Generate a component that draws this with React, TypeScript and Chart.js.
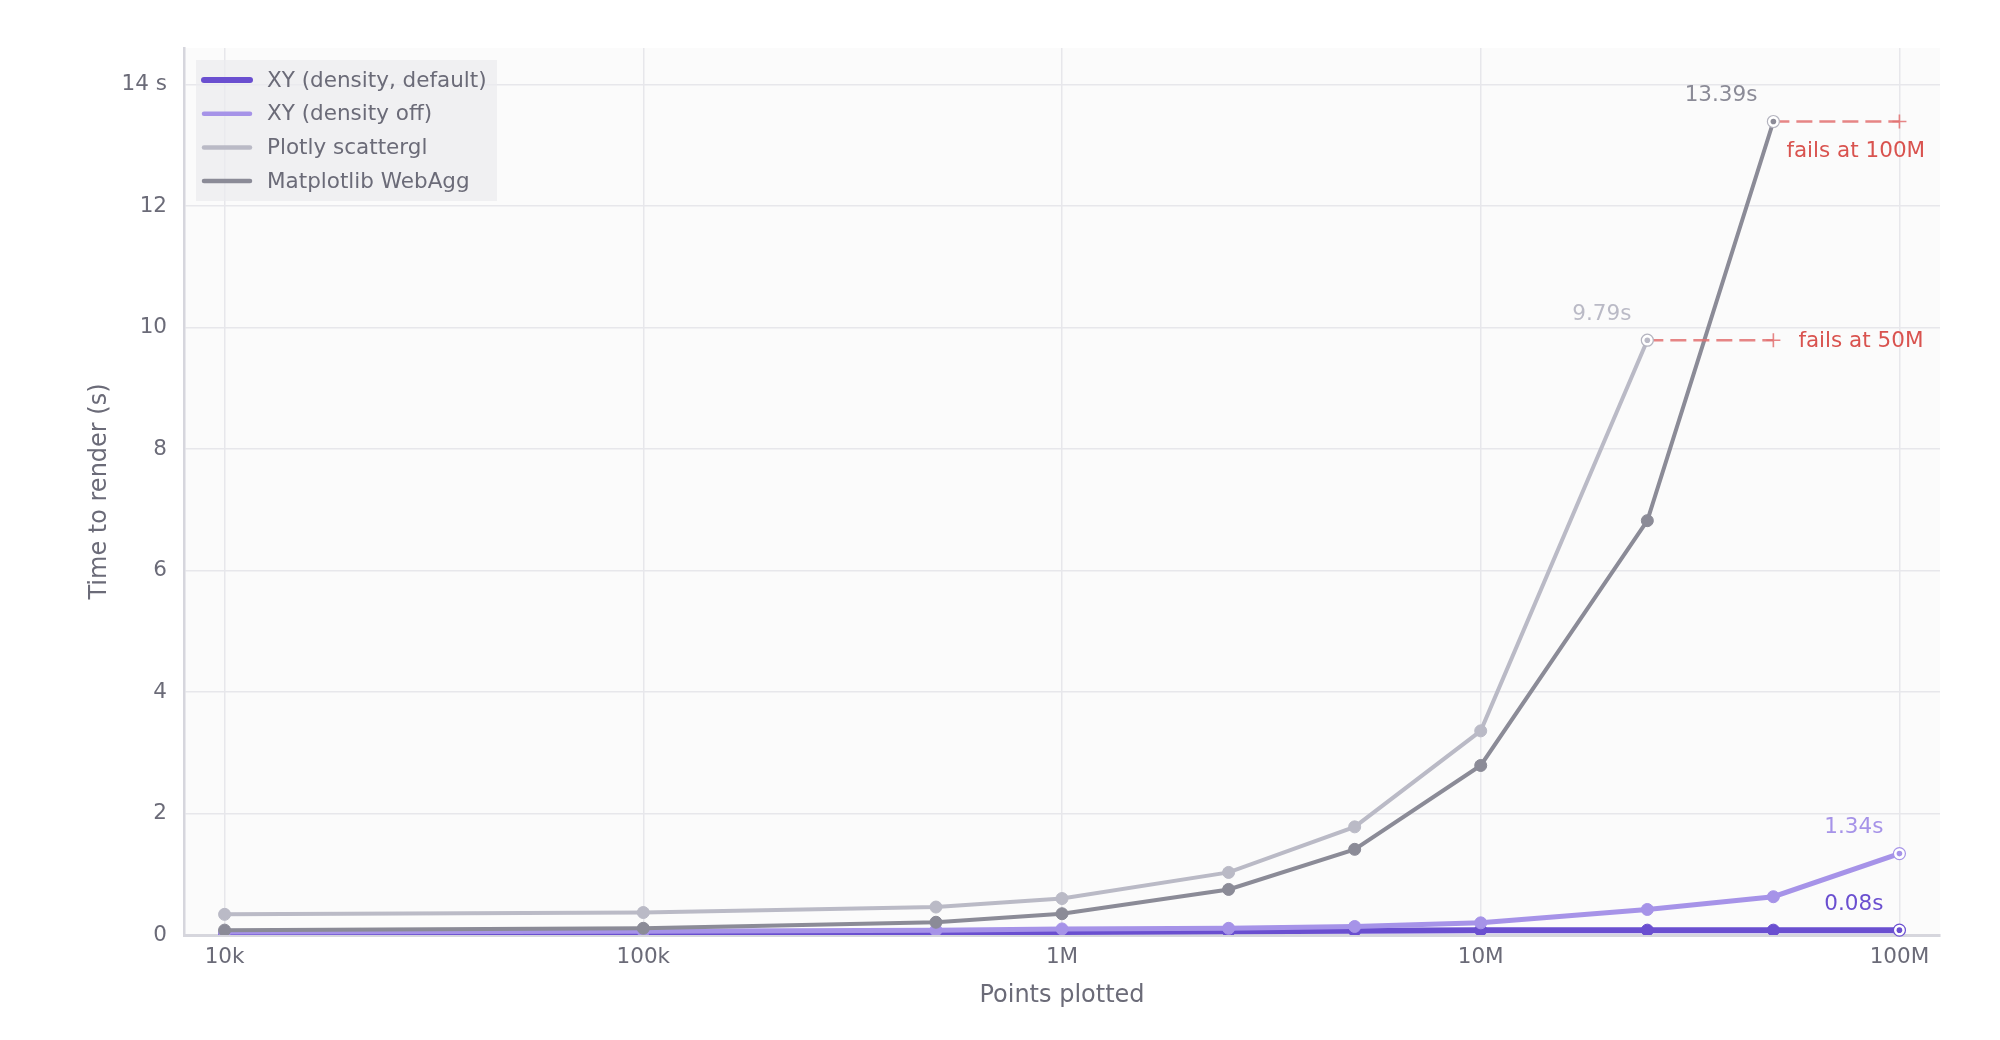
import { useEffect, useRef } from 'react';
import { Chart, registerables } from 'chart.js';

Chart.register(...registerables);

// ---- data ----
const pointsPlotted = [1e4, 1e5, 5e5, 1e6, 2.5e6, 5e6, 1e7, 2.5e7, 5e7, 1e8];
const xyDensityDefault = [0.03, 0.04, 0.05, 0.05, 0.06, 0.07, 0.08, 0.08, 0.08, 0.08];
const xyDensityOff = [0.05, 0.06, 0.08, 0.1, 0.11, 0.14, 0.2, 0.42, 0.63, 1.34];
const plotlyScattergl = [0.34, 0.37, 0.46, 0.6, 1.03, 1.78, 3.36, 9.79, null, null];
const matplotlibWebAgg = [0.08, 0.11, 0.21, 0.35, 0.75, 1.41, 2.79, 6.82, 13.39, null];

const seriesLabels = ['XY (density, default)', 'XY (density off)', 'Plotly scattergl', 'Matplotlib WebAgg'];
const seriesValues = [xyDensityDefault, xyDensityOff, plotlyScattergl, matplotlibWebAgg];

// where each series fails (null = does not fail)
const failPoints = [null, null, 5e7, 1e8];
const failLabels = ['', '', 'fails at 50M', 'fails at 100M'];

const xTickValues = [1e4, 1e5, 1e6, 1e7, 1e8];
const xTickLabels = ['10k', '100k', '1M', '10M', '100M'];
const yTickValues = [0, 2, 4, 6, 8, 10, 12, 14];
const yTickLabels = ['0', '2', '4', '6', '8', '10', '12', '14 s'];

// ---- style ----
const seriesColors = ['#6a4fd0', '#a693e8', '#babac6', '#8b8b97'];
const seriesLineWidths = [6, 5, 4, 4];
const drawOrder = [4, 3, 2, 1];
const textColor = '#6b6b78';
const failColor = '#d9534f';
const failLineColor = 'rgba(226,112,112,0.85)';
const FONT = '"DejaVu Sans", Verdana, sans-serif';

function lastIndex(arr: (number | null)[]) {
  let idx = -1;
  arr.forEach((v, i) => {
    if (v !== null && v !== undefined) idx = i;
  });
  return idx;
}

const plotBgPlugin = {
  id: 'plotBg',
  beforeDraw(chart: any) {
    const { ctx, chartArea: a } = chart;
    ctx.save();
    ctx.fillStyle = '#fbfbfb';
    ctx.fillRect(a.left, a.top, a.right - a.left, a.bottom - a.top);
    ctx.restore();
  },
};

const annotationPlugin = {
  id: 'annotations',
  afterDatasetsDraw(chart: any) {
    const { ctx } = chart;
    const xs = chart.scales.x;
    const ys = chart.scales.y;
    ctx.save();
    ctx.font = `21.5px ${FONT}`;
    seriesValues.forEach((vals, si) => {
      const li = lastIndex(vals);
      const xv = pointsPlotted[li];
      const yv = vals[li] as number;
      const px = xs.getPixelForValue(xv);
      const py = ys.getPixelForValue(yv);
      // value label
      ctx.fillStyle = seriesColors[si];
      ctx.textAlign = 'right';
      ctx.textBaseline = 'middle';
      ctx.fillText(`${yv.toFixed(2)}s`, px - 16, py - 26);
      // fail label
      const fx = failPoints[si];
      if (fx !== null) {
        ctx.fillStyle = failColor;
        ctx.textAlign = 'left';
        const fpx = xs.getPixelForValue(fx);
        if (fx >= xTickValues[xTickValues.length - 1]) {
          ctx.fillText(failLabels[si], px + 13, py + 30);
        } else {
          ctx.fillText(failLabels[si], fpx + 25, py + 1);
        }
      }
      // end-point marker
      ctx.beginPath();
      ctx.arc(px, py, 6, 0, Math.PI * 2);
      ctx.fillStyle = '#ffffff';
      ctx.fill();
      ctx.lineWidth = 1.2;
      ctx.strokeStyle = si < 2 ? seriesColors[si] : '#b4b4bf';
      ctx.stroke();
      ctx.beginPath();
      ctx.arc(px, py, 2.8, 0, Math.PI * 2);
      ctx.fillStyle = seriesColors[si];
      ctx.fill();
    });
    ctx.restore();
  },
};

const legendPlugin = {
  id: 'customLegend',
  afterDraw(chart: any) {
    const { ctx } = chart;
    ctx.save();
    ctx.fillStyle = 'rgba(236,236,239,0.72)';
    ctx.fillRect(196, 60, 301, 141);
    ctx.font = `21.5px ${FONT}`;
    ctx.textBaseline = 'middle';
    ctx.textAlign = 'left';
    seriesLabels.forEach((label, i) => {
      const y = 80 + i * 33.7;
      ctx.beginPath();
      ctx.strokeStyle = seriesColors[i];
      ctx.lineWidth = i === 0 ? 6 : 4.5;
      ctx.lineCap = 'round';
      ctx.moveTo(204, y);
      ctx.lineTo(250, y);
      ctx.stroke();
      ctx.fillStyle = textColor;
      ctx.fillText(label, 267, y + 1);
    });
    ctx.restore();
  },
};

export default function App() {
  const canvasRef = useRef<HTMLCanvasElement | null>(null);

  useEffect(() => {
    if (!canvasRef.current) return;

    const datasets: any[] = seriesValues.map((vals, si) => {
      const li = lastIndex(vals);
      const data = pointsPlotted
        .map((x, i) => ({ x, y: vals[i] }))
        .filter((p) => p.y !== null && p.y !== undefined);
      return {
        label: seriesLabels[si],
        data,
        borderColor: seriesColors[si],
        backgroundColor: seriesColors[si],
        borderWidth: seriesLineWidths[si],
        pointBackgroundColor: seriesColors[si],
        pointBorderColor: seriesColors[si],
        pointBorderWidth: 1,
        pointRadius: (c: any) => (c.dataIndex === li ? 0 : 6),
        tension: 0,
        order: drawOrder[si],
      };
    });

    seriesValues.forEach((vals, si) => {
      const fx = failPoints[si];
      if (fx === null) return;
      const li = lastIndex(vals);
      const yv = vals[li] as number;
      datasets.push({
        label: failLabels[si],
        data: [
          { x: pointsPlotted[li], y: yv },
          { x: fx, y: yv },
        ],
        borderColor: failLineColor,
        borderWidth: 2.5,
        borderDash: [16, 7],
        pointStyle: 'cross',
        pointRadius: [0, 7],
        pointBorderColor: failLineColor,
        pointBorderWidth: 1.6,
        order: 0,
      });
    });

    const chart = new Chart(canvasRef.current, {
      type: 'line',
      data: { datasets },
      options: {
        animation: false,
        responsive: true,
        maintainAspectRatio: false,
        devicePixelRatio: 1,
        events: [],
        layout: { padding: { left: 0, top: 48, right: 60, bottom: 0 } },
        plugins: {
          legend: { display: false },
          tooltip: { enabled: false },
        },
        scales: {
          x: {
            type: 'logarithmic',
            min: 8000,
            max: 1.25e8,
            afterBuildTicks: (s: any) => {
              s.ticks = xTickValues.map((v) => ({ value: v }));
            },
            afterFit: (s: any) => {
              s.height = 105;
            },
            ticks: {
              autoSkip: false,
              maxRotation: 0,
              padding: 10,
              color: textColor,
              font: { family: FONT, size: 21.5 },
              callback: (v: any) => {
                const i = xTickValues.indexOf(Number(v));
                return i >= 0 ? xTickLabels[i] : '';
              },
            },
            grid: { color: '#e7e7eb', lineWidth: 1.5, drawTicks: false },
            border: { color: '#d6d6dd', width: 3 },
            title: {
              display: true,
              text: 'Points plotted',
              color: textColor,
              font: { family: FONT, size: 24 },
              padding: { top: 0, bottom: 30 },
            },
          },
          y: {
            type: 'linear',
            min: 0,
            max: 14.6,
            afterBuildTicks: (s: any) => {
              s.ticks = yTickValues.map((v) => ({ value: v }));
            },
            afterFit: (s: any) => {
              s.width = 184;
            },
            ticks: {
              padding: 17,
              color: textColor,
              font: { family: FONT, size: 21.5 },
              callback: (v: any) => {
                const i = yTickValues.indexOf(Number(v));
                return i >= 0 ? yTickLabels[i] : '';
              },
            },
            grid: { color: '#e7e7eb', lineWidth: 1.5, drawTicks: false },
            border: { color: '#d6d6dd', width: 2.5 },
            title: {
              display: true,
              text: 'Time to render (s)',
              color: textColor,
              font: { family: FONT, size: 24 },
              padding: { top: 85, bottom: 0 },
            },
          },
        },
      } as any,
      plugins: [plotBgPlugin, annotationPlugin, legendPlugin],
    });

    return () => chart.destroy();
  }, []);

  return (
    <div
      style={{
        position: 'fixed',
        left: 0,
        top: 0,
        width: 2000,
        height: 1040,
        background: '#ffffff',
      }}
    >
      <canvas ref={canvasRef} />
    </div>
  );
}
